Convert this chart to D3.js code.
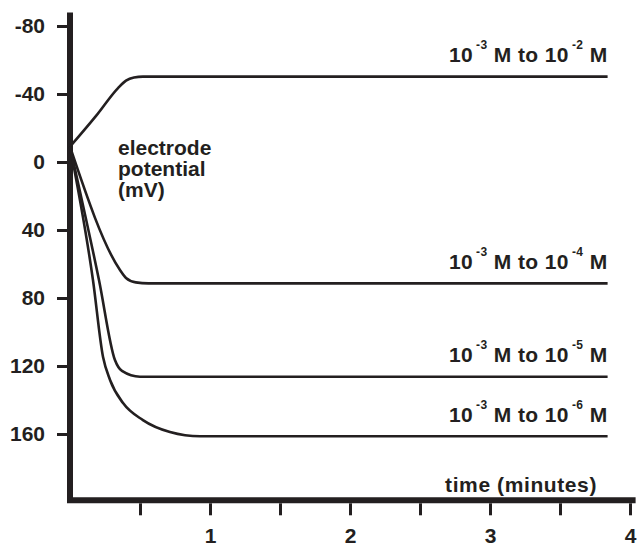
<!DOCTYPE html>
<html><head><meta charset="utf-8">
<script src="https://cdn.jsdelivr.net/npm/d3@7"></script>
<style>
html,body{margin:0;padding:0;background:#fff;}
svg{display:block;}
text{font-family:"Liberation Sans",Arial,Helvetica,sans-serif;font-weight:bold;fill:#231f20;}
</style></head>
<body><svg id="c" width="639" height="543"></svg>
<script>
// ---- data ----
const yTicks = [-80, -40, 0, 40, 80, 120, 160];
const xTicks = [0.5, 1, 1.5, 2, 2.5, 3, 3.5, 4];
const xTickLabels = ["", "1", "", "2", "", "3", "", "4"];
const seriesNames = ["-2", "-4", "-5", "-6"];
const curve1 = [[0,-9],[0.186,-27.1],[0.343,-43.5],[0.4,-47.9],[0.457,-49.7],[0.521,-50.2],[3.84,-50.2]];
const curve2 = [[0,-9],[0.357,63.5],[0.4,68.2],[0.47,70.8],[0.56,71.4],[3.84,71.4]];
const curve3 = [[0,-9],[0.207,69.4],[0.321,116.5],[0.371,122.9],[0.5,126.3],[3.84,126.3]];
const curve4 = [[0,-9],[0.164,69.4],[0.236,114.7],[0.286,128.2],[0.379,141.8],[0.521,151.8],[0.714,158.8],[0.93,161.3],[3.84,161.3]];
const seriesData = [curve1, curve2, curve3, curve4];
const yLabelLines = ["electrode", "potential", "(mV)"];
const xTitle = "time (minutes)";

const svg = d3.select("#c");
const x = d3.scaleLinear().domain([0, 4]).range([70, 630]);
const y = d3.scaleLinear().domain([-80, 160]).range([26, 434]);
const ink = "#231f20";
const fs = 21;

// axes frame
svg.append("path")
  .attr("d", `M${x(0)},${y(-88)} L${x(0)},${y(199)} L${x(4.04)},${y(199)}`)
  .attr("fill", "none").attr("stroke", ink).attr("stroke-width", 6)
  .attr("stroke-linejoin", "miter");

// y axis
const gy = svg.append("g").attr("transform", `translate(${x(0)-3},0)`)
  .call(d3.axisLeft(y).tickValues(yTicks).tickSize(10).tickPadding(12).tickFormat(d => String(d)));
gy.select(".domain").remove();
gy.selectAll(".tick line").attr("stroke", ink).attr("stroke-width", 3);
gy.selectAll(".tick text").attr("font-size", fs).attr("fill", ink)
  .style("font-family", '"Liberation Sans",Arial,sans-serif').style("font-weight", "bold");

// x axis
const gx = svg.append("g").attr("transform", `translate(0,${y(199)+3})`)
  .call(d3.axisBottom(x).tickValues(xTicks).tickSize(12).tickPadding(13)
    .tickFormat((d,i) => xTickLabels[i]));
gx.select(".domain").remove();
gx.selectAll(".tick line").attr("stroke", ink).attr("stroke-width", 3);
gx.selectAll(".tick text").attr("font-size", fs).attr("fill", ink)
  .style("font-family", '"Liberation Sans",Arial,sans-serif').style("font-weight", "bold");

// curves
const line = d3.line().x(d => x(d[0])).y(d => y(d[1])).curve(d3.curveMonotoneX);
svg.selectAll("path.series").data(seriesData).enter().append("path")
  .attr("class", "series").attr("d", line)
  .attr("fill", "none").attr("stroke", ink).attr("stroke-width", 2.6);

// series labels
seriesData.forEach((s, i) => {
  const last = s[s.length - 1];
  const t = svg.append("text")
    .attr("x", x(last[0])).attr("y", y(last[1]) - 14.5)
    .attr("text-anchor", "end").attr("font-size", fs).attr("letter-spacing", 0.4);
  t.append("tspan").text("10");
  t.append("tspan").attr("dx", 3).attr("dy", -13).attr("font-size", 12).text("-3");
  t.append("tspan").attr("dy", 13).text(" M to 10");
  t.append("tspan").attr("dx", 3).attr("dy", -13).attr("font-size", 12).text(seriesNames[i]);
  t.append("tspan").attr("dy", 13).text(" M");
});

// y label
const yl = svg.append("text").attr("x", 118).attr("y", 155).attr("font-size", fs);
yLabelLines.forEach((l, i) => yl.append("tspan").attr("x", 118).attr("dy", i ? 21 : 0).text(l));

// x title
svg.append("text").attr("x", 597).attr("y", 492).attr("text-anchor", "end")
  .attr("font-size", fs).attr("letter-spacing", 0.6).text(xTitle);
</script></body></html>
